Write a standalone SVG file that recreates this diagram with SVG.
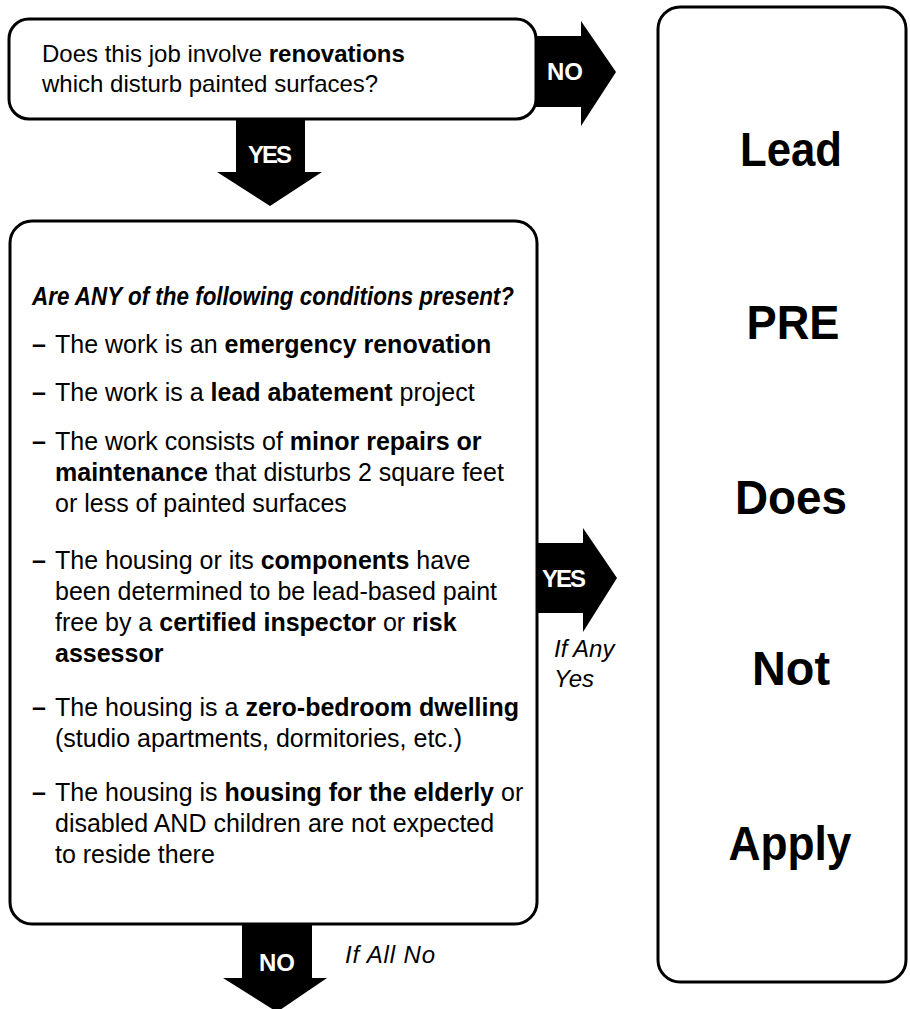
<svg xmlns="http://www.w3.org/2000/svg" width="910" height="1009" viewBox="0 0 910 1009">
<style>
.box{fill:#fff;stroke:#000;stroke-width:3}
.t{font-family:"Liberation Sans",Arial,sans-serif;font-size:24px;fill:#000}
.l{font-family:"Liberation Sans",Arial,sans-serif;font-size:25px;fill:#000}
.b{font-weight:bold}
.bi{font-weight:bold;font-style:italic}
.arr{fill:#000;stroke:none}
.al{font-family:"Liberation Sans",Arial,sans-serif;font-size:24px;font-weight:bold;fill:#fff;text-anchor:middle}
.it{font-family:"Liberation Sans",Arial,sans-serif;font-size:24px;font-style:italic;fill:#000}
.big{font-family:"Liberation Sans",Arial,sans-serif;font-size:48px;font-weight:bold;fill:#000;text-anchor:middle}
</style>
<rect width="910" height="1009" fill="#fff"/>
<g id="connectors">
  <polygon class="arr" points="536,36 581,36 581,21 616,72 581,126 581,107 536,107"/>
  <text class="al" x="565" y="80">NO</text>
  <polygon class="arr" points="236,119 305,119 305,172 322,172 270,206 217,172 236,172"/>
  <text class="al" x="270" y="163" textLength="44">YES</text>
  <polygon class="arr" points="537,543 583,543 583,528 617,578 583,632 583,613 537,613"/>
  <text class="al" x="564" y="587" textLength="44">YES</text>
  <text class="it" x="554" y="657">If Any</text>
  <text class="it" x="554" y="687">Yes</text>
  <polygon class="arr" points="242,924 312,924 312,978 327,978 277,1012 223,978 242,978"/>
  <text class="al" x="277" y="971">NO</text>
  <text class="it" x="345" y="963" textLength="90">If All No</text>
</g>
<g id="question">
  <rect class="box" x="9" y="19" width="527" height="100" rx="20"/>
  <text class="t" x="42" y="62">Does this job involve <tspan class="b">renovations</tspan></text>
  <text class="t" x="42" y="92">which disturb painted surfaces?</text>
</g>
<g id="conditions">
  <rect class="box" x="10" y="221" width="527" height="703" rx="22"/>
  <text class="l bi" x="32" y="305" textLength="482" lengthAdjust="spacingAndGlyphs">Are ANY of the following conditions present?</text>
  <g class="l">
    <text class="l b" x="32" y="353">–</text><text class="l" x="55" y="353">The work is an <tspan class="b">emergency renovation</tspan></text>
    <text class="l b" x="32" y="401">–</text><text class="l" x="55" y="401">The work is a <tspan class="b">lead abatement</tspan> project</text>
    <text class="l b" x="32" y="450">–</text><text class="l" x="55" y="450">The work consists of <tspan class="b">minor repairs or</tspan></text>
    <text class="l" x="55" y="481"><tspan class="b">maintenance</tspan> that disturbs 2 square feet</text>
    <text class="l" x="55" y="512">or less of painted surfaces</text>
    <text class="l b" x="32" y="569">–</text><text class="l" x="55" y="569">The housing or its <tspan class="b">components</tspan> have</text>
    <text class="l" x="55" y="600">been determined to be lead-based paint</text>
    <text class="l" x="55" y="631">free by a <tspan class="b">certified inspector</tspan> or <tspan class="b">risk</tspan></text>
    <text class="l b" x="55" y="662">assessor</text>
    <text class="l b" x="32" y="716">–</text><text class="l" x="55" y="716">The housing is a <tspan class="b">zero-bedroom dwelling</tspan></text>
    <text class="l" x="55" y="747">(studio apartments, dormitories, etc.)</text>
    <text class="l b" x="32" y="801">–</text><text class="l" x="55" y="801">The housing is <tspan class="b">housing for the elderly</tspan> or</text>
    <text class="l" x="55" y="832">disabled AND children are not expected</text>
    <text class="l" x="55" y="863">to reside there</text>
  </g>
</g>
<g id="result">
  <rect class="box" x="658" y="7" width="248" height="975" rx="22"/>
  <text class="big" x="791" y="166" textLength="102" lengthAdjust="spacingAndGlyphs">Lead</text>
  <text class="big" x="793" y="339" textLength="93" lengthAdjust="spacingAndGlyphs">PRE</text>
  <text class="big" x="791" y="514" textLength="112" lengthAdjust="spacingAndGlyphs">Does</text>
  <text class="big" x="791" y="685" textLength="78" lengthAdjust="spacingAndGlyphs">Not</text>
  <text class="big" x="790" y="860" textLength="123" lengthAdjust="spacingAndGlyphs">Apply</text>
</g>
</svg>
